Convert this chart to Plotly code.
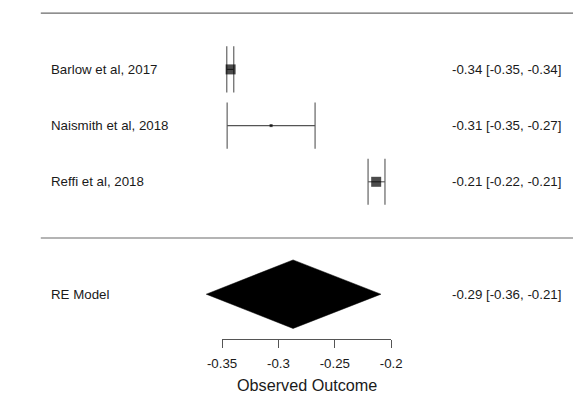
import plotly.graph_objects as go

# ---- data ----
studies = ["Barlow et al, 2017", "Naismith et al, 2018", "Reffi et al, 2018"]
yi = [-0.3424, -0.3065, -0.2133]
ci_lb = [-0.3458, -0.3455, -0.2205]
ci_ub = [-0.3396, -0.2675, -0.2055]
marker_px = [10, 3, 10]
rows = [3, 2, 1]

re_label = "RE Model"
re_est = -0.287
re_lb = -0.364
re_ub = -0.2091
re_row = -1

tick_vals = [-0.35, -0.3, -0.25, -0.2]
tick_text = ["-0.35", "-0.3", "-0.25", "-0.2"]
x_title = "Observed Outcome"

# ---- layout constants ----
W, H = 584, 412
px_per_unit = 1180.0
x_left_px = 216.7           # pixel of -0.35
x0 = tick_vals[0] - x_left_px / px_per_unit
x1 = x0 + W / px_per_unit
row_px = 56.2
row0_px = 238.0
y_top = row0_px / row_px
y_bot = (row0_px - H) / row_px

FONT = "Liberation Sans, Arial, sans-serif"
FS = 13.3
TXT = "#1a1a1a"
LINE = "#555555"

def xval(px):
    return x0 + px / px_per_unit

fig = go.Figure()

# horizontal rule lines (top and separator)
hx, hy = [], []
for r in [len(studies) + 1, 0]:
    hx += [xval(27), x1, None]
    hy += [r, r, None]
fig.add_trace(go.Scatter(x=hx, y=hy, mode="lines",
                         line=dict(color="#6a6a6a", width=1.2),
                         hoverinfo="skip", showlegend=False))

# CI lines with end caps
cap = 0.41
cx, cy = [], []
for r, lo, hi in zip(rows, ci_lb, ci_ub):
    cx += [lo, hi, None, lo, lo, None, hi, hi, None]
    cy += [r, r, None, r - cap, r + cap, None, r - cap, r + cap, None]
fig.add_trace(go.Scatter(x=cx, y=cy, mode="lines",
                         line=dict(color=LINE, width=1.1),
                         hoverinfo="skip", showlegend=False))

# point estimates
fig.add_trace(go.Scatter(x=yi, y=rows, mode="markers",
                         marker=dict(symbol="square", size=marker_px, color="black",
                                     line=dict(width=0)),
                         showlegend=False))

# summary diamond
dh = 0.61
fig.add_trace(go.Scatter(x=[re_lb, re_est, re_ub, re_est, re_lb],
                         y=[re_row, re_row + dh, re_row, re_row - dh, re_row],
                         mode="lines", fill="toself", fillcolor="black",
                         line=dict(color="black", width=0.5),
                         hoverinfo="skip", showlegend=False))

# dummy trace to create the bounded axis
fig.add_trace(go.Scatter(x=tick_vals, y=[None] * len(tick_vals), xaxis="x2", yaxis="y",
                         mode="markers", showlegend=False, hoverinfo="skip"))

# text labels
labels = studies + [re_label]
lrows = rows + [re_row]
ests = yi + [re_est]
los = ci_lb + [re_lb]
his = ci_ub + [re_ub]
for lab, r, e, lo, hi in zip(labels, lrows, ests, los, his):
    fig.add_annotation(x=xval(37), y=r, xref="x", yref="y", text=lab,
                       showarrow=False, xanchor="left", yanchor="middle",
                       font=dict(family=FONT, size=FS, color=TXT), borderpad=0)
    fig.add_annotation(x=xval(573), y=r, xref="x", yref="y",
                       text=f"{e:.2f} [{lo:.2f}, {hi:.2f}]",
                       showarrow=False, xanchor="right", yanchor="middle",
                       font=dict(family=FONT, size=FS, color=TXT), borderpad=0)

# axis title
ax_l = x_left_px / W
ax_r = (x_left_px + (tick_vals[-1] - tick_vals[0]) * px_per_unit) / W
fig.add_annotation(x=(ax_l + ax_r) / 2, y=(H - 385) / H, xref="paper", yref="paper",
                   text=x_title, showarrow=False, xanchor="center", yanchor="middle",
                   font=dict(family=FONT, size=16.2, color=TXT))

fig.update_layout(
    width=W, height=H,
    margin=dict(l=0, r=0, t=0, b=0),
    paper_bgcolor="white", plot_bgcolor="rgba(0,0,0,0)",
    showlegend=False,
    xaxis=dict(range=[x0, x1], visible=False, domain=[0, 1]),
    yaxis=dict(range=[y_bot, y_top], visible=False, domain=[0, 1]),
    xaxis2=dict(domain=[ax_l, ax_r], range=[tick_vals[0], tick_vals[-1]],
                anchor="free", position=(H - 339) / H,
                showline=True, linecolor=LINE, linewidth=1,
                ticks="outside", ticklen=8, tickwidth=1, tickcolor=LINE,
                tickvals=tick_vals, ticktext=tick_text, ticklabelstandoff=4,
                tickfont=dict(family=FONT, size=FS, color=TXT),
                showgrid=False, zeroline=False),
)

fig.write_html("out.html")
